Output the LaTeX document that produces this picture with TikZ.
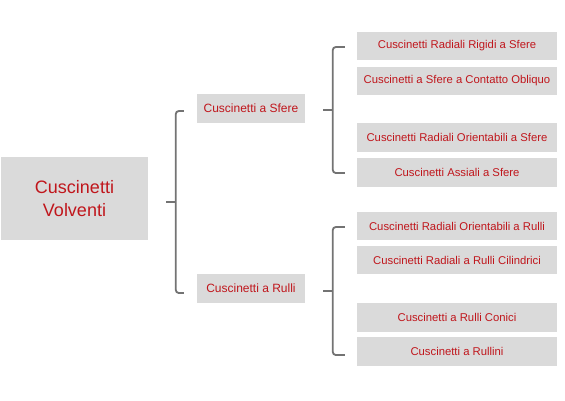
\documentclass[tikz,border=0pt]{standalone}
\usepackage{fontspec}
\setmainfont{Liberation Sans}
\usetikzlibrary{calc}
\definecolor{boxgray}{HTML}{DADADA}
\definecolor{textred}{HTML}{C0161C}
\definecolor{bracegray}{HTML}{737373}

\begin{document}
\begin{tikzpicture}[x=1pt, y=-1pt,
  box/.style={fill=boxgray, text=textred, inner sep=0pt, align=center},
  mainbox/.style={box, minimum width=147pt, minimum height=83pt, font=\fontsize{18}{23}\selectfont},
  midbox/.style={box, minimum width=108pt, minimum height=29pt, font=\fontsize{12}{14}\selectfont},
  leafbox/.style={box, minimum width=200pt, minimum height=28.5pt, font=\fontsize{11.3}{13}\selectfont},
  bracket/.style={draw=bracegray, line width=1.8pt, rounded corners=3pt}]
\useasboundingbox (0,0) rectangle (565,400);

\node[mainbox] (volventi) at (74.5,198.5) {Cuscinetti\\Volventi};

\node[midbox] (sfere) at (251,108.5) {Cuscinetti a Sfere};
\node[midbox] (rulli) at (251,288.5) {Cuscinetti a Rulli};

\node[leafbox] (s1) at (457,46)    {Cuscinetti Radiali Rigidi a Sfere};
\node[leafbox] (s2) at (457,81)    {Cuscinetti a Sfere a Contatto Obliquo};
\node[leafbox] (s3) at (457,137.5) {Cuscinetti Radiali Orientabili a Sfere};
\node[leafbox] (s4) at (457,172.5) {Cuscinetti Assiali a Sfere};

\node[leafbox] (r1) at (457,226)   {Cuscinetti Radiali Orientabili a Rulli};
\node[leafbox] (r2) at (457,260)   {Cuscinetti Radiali a Rulli Cilindrici};
\node[leafbox] (r3) at (457,317.5) {Cuscinetti a Rulli Conici};
\node[leafbox] (r4) at (457,351.5) {Cuscinetti a Rullini};

% volventi -> sfere / rulli
\coordinate (a1) at ([shift={(-13,2.5)}]sfere.west);
\coordinate (a2) at ([shift={(-13,4.5)}]rulli.west);
\draw[bracket] (a1) -- ++(-8,0) |- (a2);
\draw[bracket] ($(a1)!0.5!(a2) + (-8,0)$) -- ++(-10,0);

% sfere -> leaves
\coordinate (b1) at ([shift={(-12,1)}]s1.west);
\coordinate (b2) at ([shift={(-12,0.5)}]s4.west);
\draw[bracket] (b1) -- ++(-12,0) |- (b2);
\draw[bracket] ($(b1)!0.5!(b2) + (-12,0)$) -- ++(-10,0);

% rulli -> leaves
\coordinate (c1) at ([shift={(-12,1)}]r1.west);
\coordinate (c2) at ([shift={(-12,3.5)}]r4.west);
\draw[bracket] (c1) -- ++(-12,0) |- (c2);
\draw[bracket] ($(c1)!0.5!(c2) + (-12,0)$) -- ++(-10,0);
\end{tikzpicture}
\end{document}
